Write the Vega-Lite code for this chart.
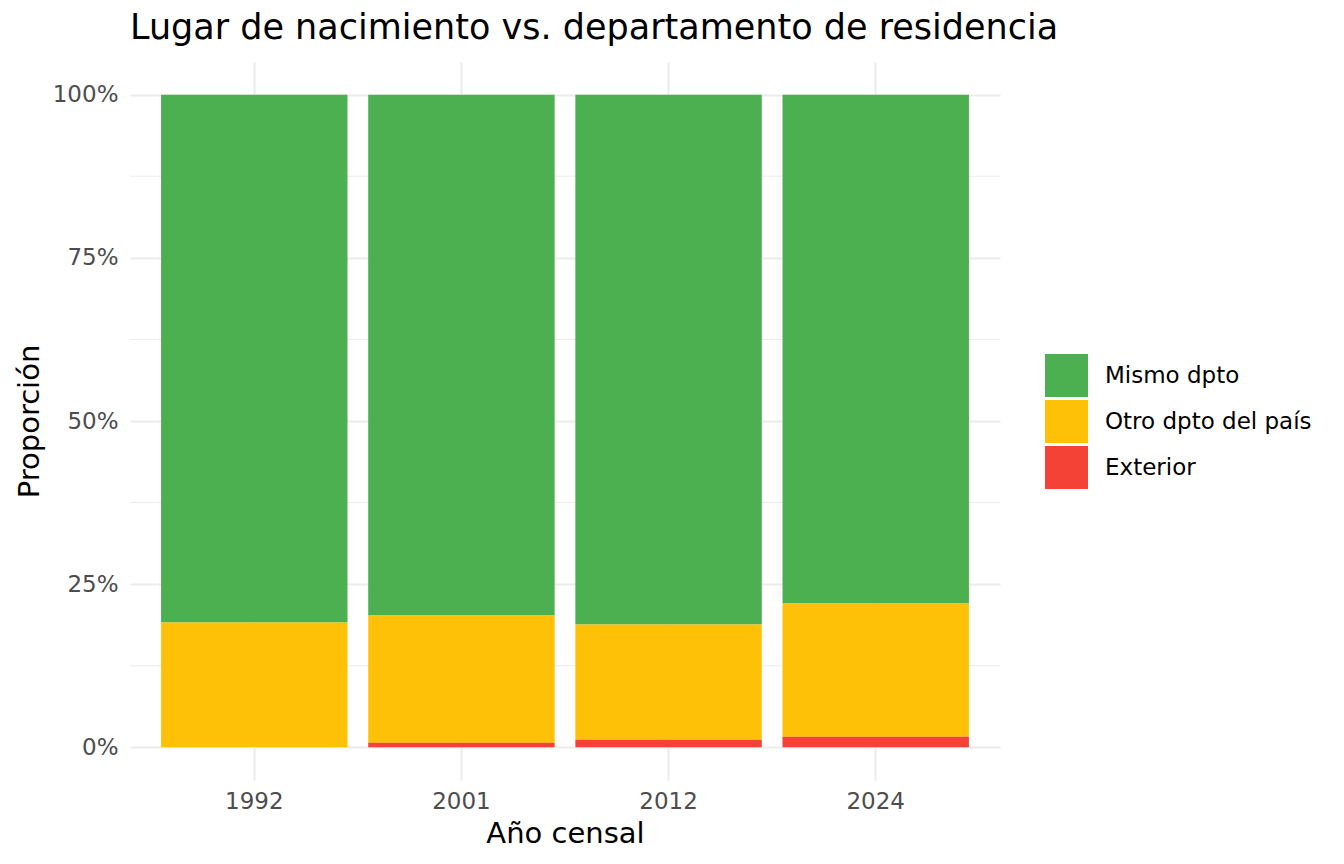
{
  "$schema": "https://vega.github.io/schema/vega-lite/v6.json",
  "autosize": {"type": "none"},
  "padding": {"left": 130, "top": 62, "right": 344, "bottom": 84},
  "width": 870,
  "height": 718,
  "title": {
    "text": "Lugar de nacimiento vs. departamento de residencia",
    "anchor": "start",
    "frame": "group",
    "fontSize": 35,
    "fontWeight": "normal",
    "color": "#000000",
    "baseline": "alphabetic",
    "offset": -12
  },
  "layer": [
    {
      "data": {"values": [{"v": 0.125}, {"v": 0.375}, {"v": 0.625}, {"v": 0.875}]},
      "mark": {"type": "rule", "color": "#EBEBEB", "strokeWidth": 1},
      "encoding": {
        "y": {"field": "v", "type": "quantitative", "scale": {"domain": [-0.05, 1.05], "nice": false, "zero": false}}
      }
    },
    {
      "data": {
        "values": [
          {"anio": "1992", "lugar": "Mismo dpto", "prop": 0.8087},
          {"anio": "1992", "lugar": "Otro dpto del país", "prop": 0.1913},
          {"anio": "1992", "lugar": "Exterior", "prop": 0.0},
          {"anio": "2001", "lugar": "Mismo dpto", "prop": 0.798},
          {"anio": "2001", "lugar": "Otro dpto del país", "prop": 0.1948},
          {"anio": "2001", "lugar": "Exterior", "prop": 0.0072},
          {"anio": "2012", "lugar": "Mismo dpto", "prop": 0.8117},
          {"anio": "2012", "lugar": "Otro dpto del país", "prop": 0.1765},
          {"anio": "2012", "lugar": "Exterior", "prop": 0.0118},
          {"anio": "2024", "lugar": "Mismo dpto", "prop": 0.7795},
          {"anio": "2024", "lugar": "Otro dpto del país", "prop": 0.2041},
          {"anio": "2024", "lugar": "Exterior", "prop": 0.0164}
        ]
      },
      "transform": [
        {"calculate": "indexof(['Exterior', 'Otro dpto del país', 'Mismo dpto'], datum.lugar)", "as": "orden"}
      ],
      "mark": {"type": "bar"},
      "encoding": {
        "x": {
          "field": "anio",
          "type": "nominal",
          "title": "Año censal",
          "scale": {"paddingInner": 0.1, "paddingOuter": 0.15},
          "axis": {
            "labelAngle": 0,
            "grid": true,
            "bandPosition": 0.5,
            "gridColor": "#EBEBEB",
            "gridWidth": 2,
            "labelPadding": 10,
            "titlePadding": 6
          }
        },
        "y": {
          "field": "prop",
          "type": "quantitative",
          "stack": "zero",
          "title": "Proporción",
          "scale": {"domain": [-0.05, 1.05], "nice": false, "zero": false},
          "axis": {
            "values": [0, 0.25, 0.5, 0.75, 1],
            "format": ".0%",
            "grid": true,
            "gridColor": "#EBEBEB",
            "gridWidth": 2,
            "labelPadding": 12,
            "titlePadding": 8
          }
        },
        "color": {
          "field": "lugar",
          "type": "nominal",
          "scale": {
            "domain": ["Mismo dpto", "Otro dpto del país", "Exterior"],
            "range": ["#4CAF50", "#FFC107", "#F44336"]
          },
          "legend": {
            "title": null,
            "orient": "none",
            "legendX": 915,
            "legendY": 292,
            "padding": 0,
            "symbolType": "square",
            "symbolSize": 1849,
            "symbolStrokeWidth": 0,
            "symbolOpacity": 1,
            "rowPadding": 3,
            "labelOffset": 17,
            "labelLimit": 400,
            "labelFontSize": 23,
            "labelColor": "#000000",
            "labelFont": "DejaVu Sans"
          }
        },
        "order": {"field": "orden", "type": "quantitative"}
      }
    }
  ],
  "config": {
    "font": "DejaVu Sans",
    "view": {"stroke": null},
    "axis": {
      "domain": false,
      "ticks": false,
      "labelFont": "DejaVu Sans",
      "labelFontSize": 23,
      "labelColor": "#4D4D4D",
      "titleFont": "DejaVu Sans",
      "titleFontSize": 29,
      "titleFontWeight": "normal",
      "titleColor": "#000000"
    }
  }
}
